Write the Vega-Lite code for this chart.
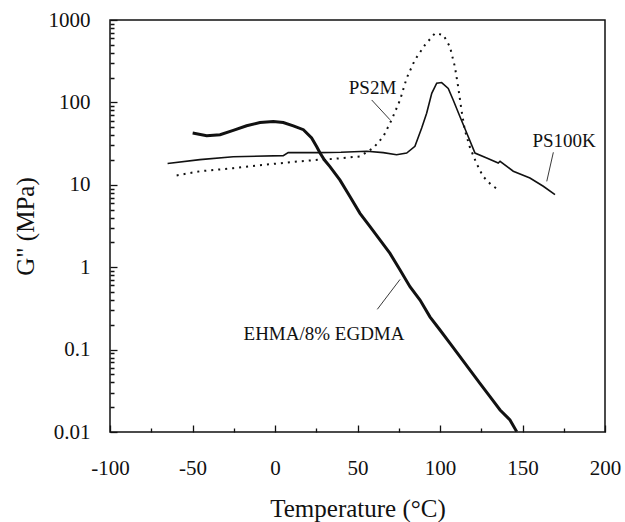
{
  "$schema": "https://vega.github.io/schema/vega-lite/v6.json",
  "width": 495,
  "height": 412,
  "autosize": "none",
  "padding": {"left": 110, "top": 20, "right": 20, "bottom": 90},
  "background": "white",
  "config": {
    "view": {"stroke": "#111", "strokeWidth": 1.5},
    "axis": {
      "grid": false,
      "ticks": true,
      "domain": false,
      "tickColor": "#111",
      "tickWidth": 1.3,
      "tickSize": 7,
      "labelFont": "Liberation Serif",
      "labelFontSize": 21,
      "labelColor": "#111",
      "titleFont": "Liberation Serif",
      "titleFontSize": 25,
      "titleFontWeight": "normal",
      "titleColor": "#111"
    }
  },
  "datasets": {
    "curves": [
      {"series": "EHMA", "T": -49.9, "G": 42.5},
      {"series": "EHMA", "T": -41.4, "G": 39.5},
      {"series": "EHMA", "T": -33.3, "G": 40.5},
      {"series": "EHMA", "T": -25.3, "G": 45.7},
      {"series": "EHMA", "T": -17.2, "G": 52},
      {"series": "EHMA", "T": -9.1, "G": 57},
      {"series": "EHMA", "T": -1, "G": 58.8},
      {"series": "EHMA", "T": 5, "G": 57},
      {"series": "EHMA", "T": 11.1, "G": 52},
      {"series": "EHMA", "T": 17.2, "G": 46.6},
      {"series": "EHMA", "T": 22.2, "G": 37},
      {"series": "EHMA", "T": 25.3, "G": 29},
      {"series": "EHMA", "T": 27.3, "G": 24.3},
      {"series": "EHMA", "T": 30, "G": 20},
      {"series": "EHMA", "T": 33.3, "G": 16.6},
      {"series": "EHMA", "T": 39.4, "G": 11.4},
      {"series": "EHMA", "T": 45.5, "G": 7.17},
      {"series": "EHMA", "T": 51.5, "G": 4.51},
      {"series": "EHMA", "T": 57.6, "G": 3.1},
      {"series": "EHMA", "T": 63.6, "G": 2.14},
      {"series": "EHMA", "T": 69.7, "G": 1.47},
      {"series": "EHMA", "T": 75.8, "G": 0.925},
      {"series": "EHMA", "T": 81.8, "G": 0.58},
      {"series": "EHMA", "T": 87.9, "G": 0.4},
      {"series": "EHMA", "T": 93.9, "G": 0.25},
      {"series": "EHMA", "T": 100, "G": 0.173},
      {"series": "EHMA", "T": 106.1, "G": 0.119},
      {"series": "EHMA", "T": 112.1, "G": 0.082},
      {"series": "EHMA", "T": 118.2, "G": 0.0565},
      {"series": "EHMA", "T": 124.2, "G": 0.039},
      {"series": "EHMA", "T": 130.3, "G": 0.0268},
      {"series": "EHMA", "T": 136.4, "G": 0.0185},
      {"series": "EHMA", "T": 142.4, "G": 0.014},
      {"series": "EHMA", "T": 146.5, "G": 0.0101},
      {"series": "PS100K", "T": -65.1, "G": 18.1},
      {"series": "PS100K", "T": -45.5, "G": 20.2},
      {"series": "PS100K", "T": -25.3, "G": 21.9},
      {"series": "PS100K", "T": 5, "G": 22.6},
      {"series": "PS100K", "T": 8, "G": 24.6},
      {"series": "PS100K", "T": 27, "G": 24.6},
      {"series": "PS100K", "T": 40, "G": 24.8},
      {"series": "PS100K", "T": 55.6, "G": 25.5},
      {"series": "PS100K", "T": 65.6, "G": 24.6},
      {"series": "PS100K", "T": 73.7, "G": 23.2},
      {"series": "PS100K", "T": 79.8, "G": 24.3},
      {"series": "PS100K", "T": 84.8, "G": 29.3},
      {"series": "PS100K", "T": 88.9, "G": 48.9},
      {"series": "PS100K", "T": 91.9, "G": 74},
      {"series": "PS100K", "T": 95, "G": 129},
      {"series": "PS100K", "T": 98, "G": 171},
      {"series": "PS100K", "T": 101, "G": 174},
      {"series": "PS100K", "T": 105, "G": 148},
      {"series": "PS100K", "T": 108, "G": 107},
      {"series": "PS100K", "T": 112, "G": 68},
      {"series": "PS100K", "T": 116.2, "G": 42.5},
      {"series": "PS100K", "T": 121.2, "G": 24.3},
      {"series": "PS100K", "T": 128.3, "G": 21.2},
      {"series": "PS100K", "T": 135.3, "G": 18.4},
      {"series": "PS100K", "T": 136.4, "G": 19.3},
      {"series": "PS100K", "T": 144.4, "G": 14.6},
      {"series": "PS100K", "T": 154.5, "G": 12.1},
      {"series": "PS100K", "T": 162.6, "G": 9.6},
      {"series": "PS100K", "T": 169.7, "G": 7.6},
      {"series": "PS2M", "T": -59.6, "G": 13},
      {"series": "PS2M", "T": -45.5, "G": 14.6},
      {"series": "PS2M", "T": -25.3, "G": 15.9},
      {"series": "PS2M", "T": -5, "G": 17.6},
      {"series": "PS2M", "T": 15.2, "G": 19.3},
      {"series": "PS2M", "T": 27.3, "G": 20.2},
      {"series": "PS2M", "T": 35.3, "G": 20.6},
      {"series": "PS2M", "T": 51.5, "G": 22.1},
      {"series": "PS2M", "T": 59.6, "G": 28},
      {"series": "PS2M", "T": 65.7, "G": 38.6},
      {"series": "PS2M", "T": 70.7, "G": 61.6},
      {"series": "PS2M", "T": 75.8, "G": 107},
      {"series": "PS2M", "T": 79.8, "G": 197},
      {"series": "PS2M", "T": 84.8, "G": 328},
      {"series": "PS2M", "T": 90.9, "G": 498},
      {"series": "PS2M", "T": 97, "G": 690},
      {"series": "PS2M", "T": 102, "G": 658},
      {"series": "PS2M", "T": 106, "G": 475},
      {"series": "PS2M", "T": 109, "G": 272},
      {"series": "PS2M", "T": 111, "G": 155},
      {"series": "PS2M", "T": 113, "G": 81},
      {"series": "PS2M", "T": 115, "G": 46.6},
      {"series": "PS2M", "T": 118, "G": 29},
      {"series": "PS2M", "T": 122, "G": 18.4},
      {"series": "PS2M", "T": 126, "G": 12.7},
      {"series": "PS2M", "T": 131, "G": 10},
      {"series": "PS2M", "T": 135, "G": 8.8}
    ],
    "labels": [
      {"label": "PS2M", "T": 59.1, "G": 148},
      {"label": "PS100K", "T": 175.2, "G": 34.3},
      {"label": "EHMA/8% EGDMA", "T": 29.7, "G": 0.153}
    ],
    "leaders": [
      {"T": 58.6, "G": 107, "T2": 69.7, "G2": 61.5},
      {"T": 168.7, "G": 24.8, "T2": 164.7, "G2": 11},
      {"T": 75.8, "G": 0.711, "T2": 62, "G2": 0.308}
    ]
  },
  "encoding": {
    "x": {
      "field": "T", "type": "quantitative",
      "scale": {"domain": [-100, 200], "nice": false, "zero": false},
      "axis": {
        "title": "Temperature (°C)",
        "values": [-100, -75, -50, -25, 0, 25, 50, 75, 100, 125, 150, 175, 200],
        "labelExpr": "datum.value % 50 == 0 ? '' + datum.value : ''",
        "offset": -7,
        "tickDash": {"condition": {"test": "datum.value % 50 == 0", "value": [7, 0]}, "value": [0, 3, 4, 20]},
        "labelPadding": 25,
        "labelFlush": false,
        "titlePadding": 18
      }
    },
    "y": {
      "field": "G", "type": "quantitative",
      "scale": {"type": "log", "domain": [0.01, 1000], "nice": false},
      "axis": {
        "title": "G\" (MPa)",
        "values": [0.01, 0.02, 0.03, 0.04, 0.05, 0.06, 0.07, 0.08, 0.09, 0.1, 0.2, 0.3, 0.4, 0.5, 0.6, 0.7, 0.8, 0.9, 1, 2, 3, 4, 5, 6, 7, 8, 9, 10, 20, 30, 40, 50, 60, 70, 80, 90, 100, 200, 300, 400, 500, 600, 700, 800, 900, 1000],
        "labelExpr": "abs(log(datum.value)/LN10 - round(log(datum.value)/LN10)) < 1e-6 ? format(datum.value, '~g') : ''",
        "offset": -7,
        "tickDash": {"condition": {"test": "abs(log(datum.value)/LN10 - round(log(datum.value)/LN10)) < 1e-6", "value": [7, 0]}, "value": [0, 3, 4, 20]},
        "labelPadding": 20,
        "labelFlush": false,
        "titlePadding": 10
      }
    }
  },
  "layer": [
    {
      "data": {"name": "curves"},
      "transform": [{"filter": "datum.series == 'PS100K'"}],
      "mark": {"type": "line", "color": "#111", "strokeWidth": 1.6, "clip": true}
    },
    {
      "data": {"name": "curves"},
      "transform": [{"filter": "datum.series == 'PS2M'"}],
      "mark": {"type": "line", "color": "#111", "strokeWidth": 2, "strokeDash": [2, 5], "clip": true}
    },
    {
      "data": {"name": "curves"},
      "transform": [{"filter": "datum.series == 'EHMA'"}],
      "mark": {"type": "line", "color": "#111", "strokeWidth": 3, "clip": true}
    },
    {
      "data": {"name": "leaders"},
      "mark": {"type": "rule", "color": "#222", "strokeWidth": 0.9},
      "encoding": {
        "x2": {"field": "T2"},
        "y2": {"field": "G2"}
      }
    },
    {
      "data": {"name": "labels"},
      "mark": {"type": "text", "font": "Liberation Serif", "fontSize": 19, "color": "#111", "align": "center", "baseline": "middle"},
      "encoding": {"text": {"field": "label"}}
    }
  ]
}
